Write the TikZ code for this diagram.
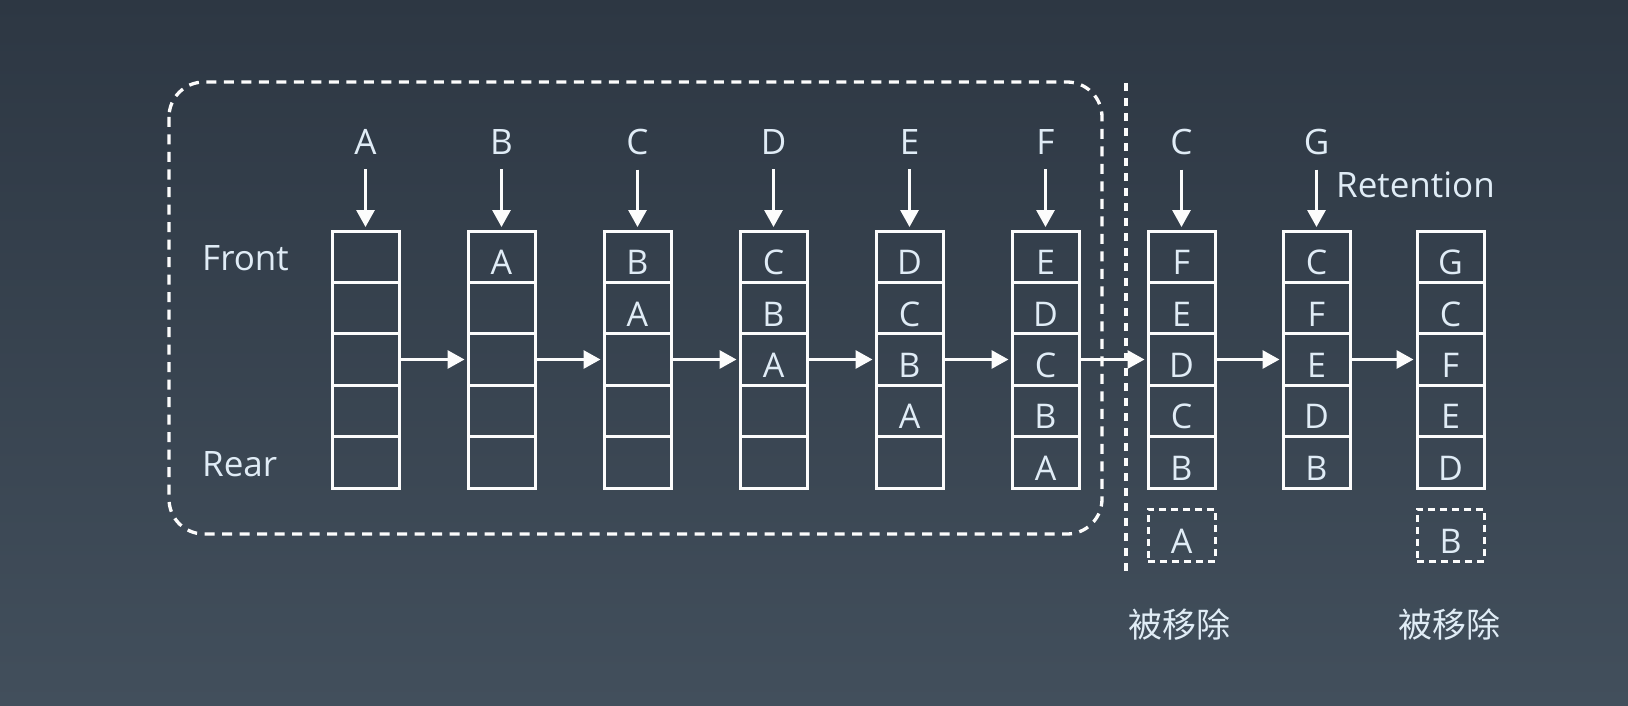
\documentclass[tikz,border=0pt]{standalone}
\usepackage{fontspec}
\setmainfont{Open Sans}
\newfontfamily\cjk{Noto Sans CJK SC}
\usetikzlibrary{arrows.meta}
\definecolor{bgtop}{RGB}{45,55,67}
\definecolor{bgbot}{RGB}{66,79,92}
\definecolor{txt}{RGB}{224,236,246}
\definecolor{ln}{RGB}{252,252,252}
\tikzset{
  cell/.style={draw=ln, line width=3pt, minimum width=67pt, minimum height=51.4pt,
    inner sep=0pt, text=txt, font=\fontsize{34}{40}\selectfont, text height=36pt, text depth=0pt},
  gone/.style={cell, dash pattern=on 7pt off 5pt, minimum height=52pt},
  lbl/.style={text=txt, inner sep=0pt, font=\fontsize{35}{42}\selectfont},
  cjklbl/.style={text=txt, inner sep=0pt, font=\cjk\fontsize{34}{40}\selectfont},
  arr/.style={draw=ln, line width=3pt, -{Triangle[width=18pt,length=17pt]}},
  bigdash/.style={draw=ln, line width=3.3pt, dash pattern=on 10pt off 7.5pt, rounded corners=35pt},
  vdash/.style={draw=ln, line width=3.3pt, dash pattern=on 8pt off 7pt},
}
\newcommand\mystack[3]{%
  \foreach \t [count=\j] in {#3} {
    \node[cell] (#1c\j) at (#2+33.5, 256.7+51.4*\j-51.4) {\t};
  }%
}
\begin{document}
\begin{tikzpicture}[x=1pt,y=-1pt]
\useasboundingbox (0,0) rectangle (1628,706);
\fill[top color=bgtop, bottom color=bgbot] (0,0) rectangle (1628,706);

% dashed groups
\draw[bigdash] (169,82) rectangle (1102,534);
\coordinate (v1) at (1126,83);
\coordinate (v2) at (1126,575);
\draw[vdash] (v1) -- (v2);

% stacks
\mystack{s1}{332}{{},{},{},{},{}}
\mystack{s2}{468}{A,{},{},{},{}}
\mystack{s3}{604}{B,A,{},{},{}}
\mystack{s4}{740}{C,B,A,{},{}}
\mystack{s5}{876}{D,C,B,A,{}}
\mystack{s6}{1012}{E,D,C,B,A}
\mystack{s7}{1148}{F,E,D,C,B}
\mystack{s8}{1283}{C,F,E,D,B}
\mystack{s9}{1417}{G,C,F,E,D}

% incoming labels and arrows
\foreach \n/\x/\l in {1/332/A,2/468/B,3/604/C,4/740/D,5/876/E,6/1012/F,7/1148/C,8/1283/G} {
  \node[lbl, anchor=base] (t\n) at (\x+33.5,154) {\l};
  \draw[arr, shorten <=15pt, shorten >=2.5pt] (t\n.south) -- (s\n c1.north);
}

% horizontal arrows
\foreach \a/\b in {1/2,2/3,3/4,4/5,5/6,6/7,7/8,8/9} {
  \draw[arr, shorten >=2pt] (s\a c3.east) -- (s\b c3.west);
}

% labels
\node[lbl, anchor=base west] (front) at (202,270) {Front};
\node[lbl, anchor=base west] (rear) at (202,476) {Rear};
\node[lbl, anchor=base west] (ret) at (1336,197) {Retention};

% removed items
\node[gone] (g1) at (1181.5,535) {A};
\node[gone] (g2) at (1450.5,535) {B};
\node[cjklbl] (r1) at (1179,625) {被移除};
\node[cjklbl] (r2) at (1449,625) {被移除};
\end{tikzpicture}
\end{document}
